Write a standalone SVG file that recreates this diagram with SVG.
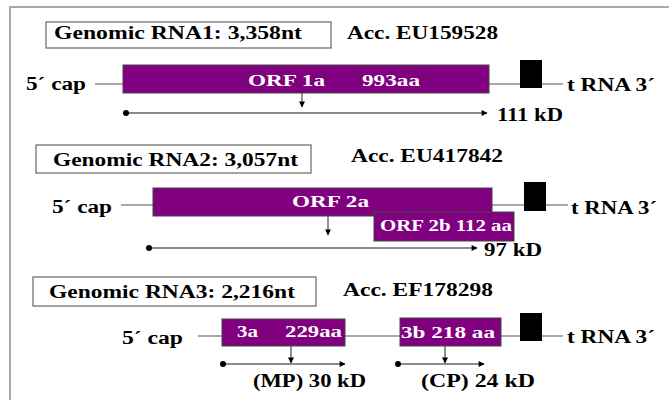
<svg xmlns="http://www.w3.org/2000/svg" width="669" height="400" viewBox="0 0 669 400">
<style>
text{font-family:"Liberation Serif","DejaVu Serif","Times New Roman",serif;font-weight:bold;fill:#000}
.t{font-size:18px}
.l{font-size:18px}
.w{font-size:16px;fill:#fff}
.tb{fill:#fff;stroke:#666;stroke-width:1.2}
.orf{fill:#800080;stroke:#444;stroke-width:1}
.blk{fill:#000}
.bb{stroke:#555;stroke-width:1.2;fill:none}
.pl{stroke:#666;stroke-width:1.5;fill:none}
.dn{stroke:#222;stroke-width:1;fill:none}
.frame{stroke:#aaa;stroke-width:2;fill:none}
</style>
<defs>
<marker id="ah" viewBox="0 0 10 10" refX="9" refY="5" markerWidth="7" markerHeight="6" markerUnits="userSpaceOnUse" orient="auto"><path d="M0,0L10,5L0,10z" fill="#000"/></marker>
<marker id="ahs" viewBox="0 0 10 10" refX="9" refY="5" markerWidth="7" markerHeight="6" markerUnits="userSpaceOnUse" orient="auto"><path d="M0,0L10,5L0,10z" fill="#000"/></marker>
</defs>
<rect width="669" height="400" fill="#fff"/>
<path class="frame" d="M10,400V7H669"/>

<g id="connectors">
<path class="bb" d="M95,84H123M489,84H520M542,84H563"/>
<path class="dn" d="M302,93V107" marker-end="url(#ahs)"/>
<path class="pl" d="M126,113H487" marker-end="url(#ah)"/>
<circle cx="126" cy="113" r="3" fill="#000"/>
<path class="bb" d="M121,205H153M492,205H524M546,205H568"/>
<path class="dn" d="M328,216V235" marker-end="url(#ahs)"/>
<path class="pl" d="M149,248H477" marker-end="url(#ah)"/>
<circle cx="149" cy="248" r="3" fill="#000"/>
<path class="bb" d="M198,336H222M345,336H400M501,336H520M542,336H563"/>
<path class="dn" d="M291,346V363" marker-end="url(#ahs)"/>
<path class="pl" d="M223,364H345" marker-end="url(#ah)"/>
<circle cx="223" cy="364" r="3" fill="#000"/>
<path class="dn" d="M445,346V363" marker-end="url(#ahs)"/>
<path class="pl" d="M398,364H484" marker-end="url(#ah)"/>
<circle cx="398" cy="364" r="3" fill="#000"/>
</g>

<g id="rna1-title"><rect class="tb" x="46" y="22" width="285" height="26"/><text class="t" x="54" y="39" textLength="248" lengthAdjust="spacingAndGlyphs">Genomic RNA1: 3,358nt</text></g>
<g id="rna1-acc"><text class="t" x="347" y="39" textLength="151" lengthAdjust="spacingAndGlyphs">Acc. EU159528</text></g>
<g id="rna1-5cap"><text class="l" x="26" y="90" textLength="60" lengthAdjust="spacingAndGlyphs">5´ cap</text></g>
<g id="rna1-orf1a"><rect class="orf" x="123" y="65" width="366" height="28"/><text class="w" x="248" y="86" textLength="77" lengthAdjust="spacingAndGlyphs">ORF 1a</text><text class="w" x="362" y="86" textLength="58" lengthAdjust="spacingAndGlyphs">993aa</text></g>
<g id="rna1-trna"><rect class="blk" x="520" y="60" width="22" height="28"/><text class="l" x="567" y="91" textLength="88" lengthAdjust="spacingAndGlyphs">t RNA 3´</text></g>
<g id="rna1-kd"><text class="l" x="497" y="121" textLength="66" lengthAdjust="spacingAndGlyphs">111 kD</text></g>

<g id="rna2-title"><rect class="tb" x="36" y="145" width="275" height="28"/><text class="t" x="53" y="166" textLength="245" lengthAdjust="spacingAndGlyphs">Genomic RNA2: 3,057nt</text></g>
<g id="rna2-acc"><text class="t" x="351" y="162" textLength="152" lengthAdjust="spacingAndGlyphs">Acc. EU417842</text></g>
<g id="rna2-5cap"><text class="l" x="52" y="213" textLength="60" lengthAdjust="spacingAndGlyphs">5´ cap</text></g>
<g id="rna2-orf2a"><rect class="orf" x="153" y="188" width="339" height="28"/><text class="w" x="292" y="207" textLength="77" lengthAdjust="spacingAndGlyphs">ORF 2a</text></g>
<g id="rna2-orf2b"><rect class="orf" x="374" y="212" width="140" height="29"/><text class="w" x="380" y="231" textLength="132" lengthAdjust="spacingAndGlyphs">ORF 2b 112 aa</text></g>
<g id="rna2-trna"><rect class="blk" x="524" y="182" width="22" height="29"/><text class="l" x="571" y="214" textLength="86" lengthAdjust="spacingAndGlyphs">t RNA 3´</text></g>
<g id="rna2-kd"><text class="l" x="484" y="256" textLength="58" lengthAdjust="spacingAndGlyphs">97 kD</text></g>

<g id="rna3-title"><rect class="tb" x="33" y="277" width="283" height="29"/><text class="t" x="49" y="298" textLength="246" lengthAdjust="spacingAndGlyphs">Genomic RNA3: 2,216nt</text></g>
<g id="rna3-acc"><text class="t" x="343" y="296" textLength="150" lengthAdjust="spacingAndGlyphs">Acc. EF178298</text></g>
<g id="rna3-5cap"><text class="l" x="122" y="344" textLength="61" lengthAdjust="spacingAndGlyphs">5´ cap</text></g>
<g id="rna3-3a"><rect class="orf" x="222" y="319" width="123" height="27"/><text class="w" x="237" y="337" textLength="21" lengthAdjust="spacingAndGlyphs">3a</text><text class="w" x="285" y="337" textLength="57" lengthAdjust="spacingAndGlyphs">229aa</text></g>
<g id="rna3-3b"><rect class="orf" x="400" y="318" width="101" height="28"/><text class="w" x="401" y="338" textLength="94" lengthAdjust="spacingAndGlyphs">3b 218 aa</text></g>
<g id="rna3-trna"><rect class="blk" x="520" y="313" width="22" height="28"/><text class="l" x="567" y="343" textLength="88" lengthAdjust="spacingAndGlyphs">t RNA 3´</text></g>
<g id="rna3-mp"><text class="l" x="253" y="387" textLength="113" lengthAdjust="spacingAndGlyphs">(MP) 30 kD</text></g>
<g id="rna3-cp"><text class="l" x="421" y="387" textLength="114" lengthAdjust="spacingAndGlyphs">(CP) 24 kD</text></g>
</svg>
